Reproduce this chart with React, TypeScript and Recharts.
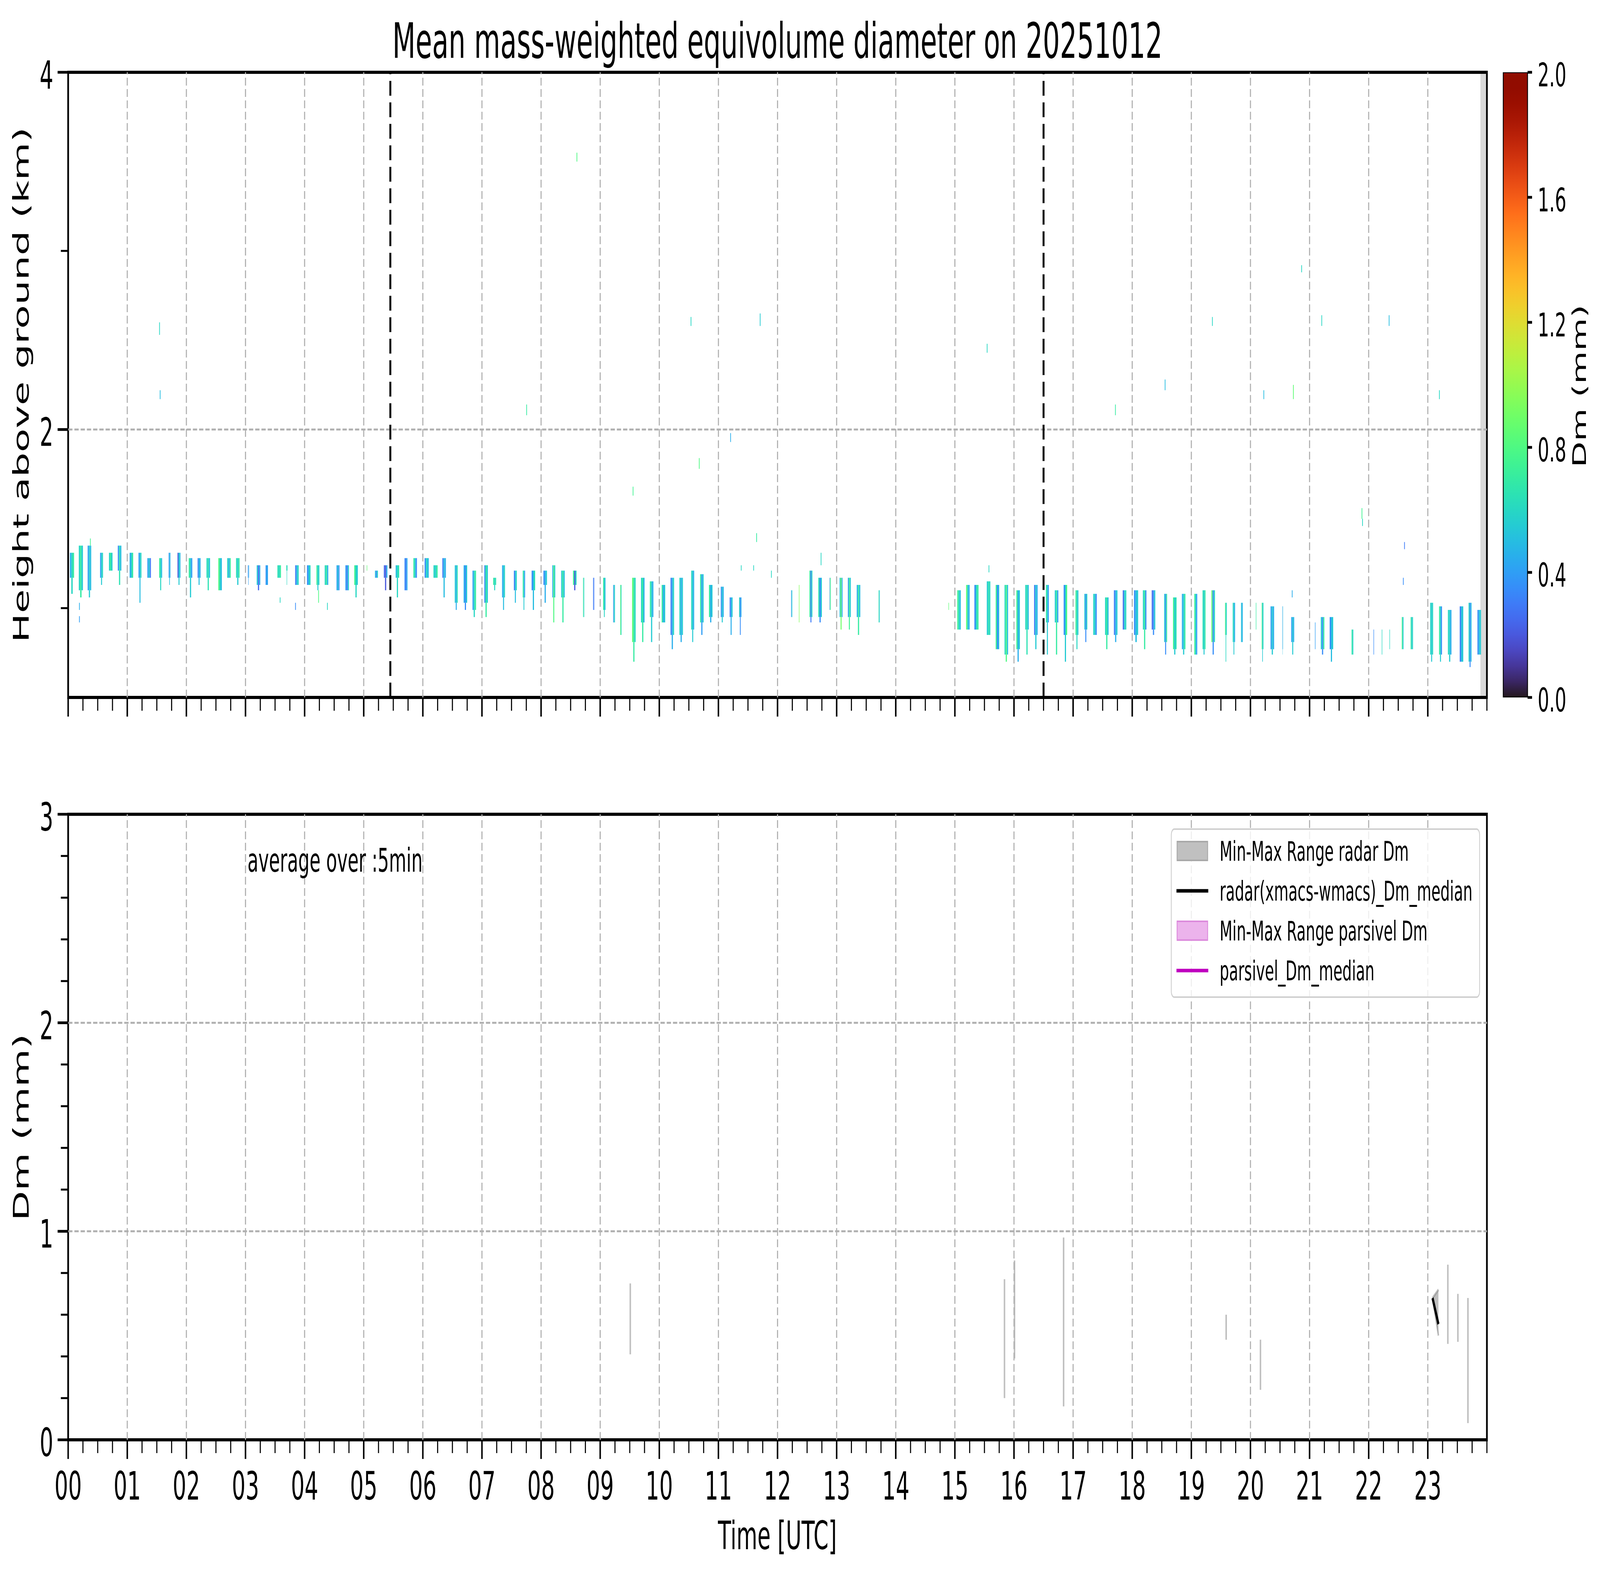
import React from "react";
import {
  ComposedChart,
  BarChart,
  Bar,
  Area,
  Line,
  XAxis,
  YAxis,
  ReferenceArea,
  ReferenceLine,
} from "recharts";

const FONT = '"DejaVu Sans", "Liberation Sans", sans-serif';
const PAGE_W = 7442;
const PAGE_H = 4031;

// axis labels / ticks
const HOUR_LABELS = [
  "00", "01", "02", "03", "04", "05", "06", "07", "08", "09", "10", "11",
  "12", "13", "14", "15", "16", "17", "18", "19", "20", "21", "22", "23",
];
const HOURS = HOUR_LABELS.map(Number);
const QUARTER_TICKS = Array.from({ length: 97 }, (_, i) => i / 4);
const TOP_Y_TICKS = [1, 2, 3, 4];
const TOP_Y_MAJOR = [2, 4];
const TOP_Y_GRID = [2];
const BOT_Y_TICKS = [0, 0.2, 0.4, 0.6, 0.8, 1, 1.2, 1.4, 1.6, 1.8, 2, 2.2, 2.4, 2.6, 2.8, 3];
const BOT_Y_MAJOR = [0, 1, 2, 3];
const BOT_Y_GRID = [1, 2];
const CB_TICKS = [0, 0.4, 0.8, 1.2, 1.6, 2.0];
const CB_LABELS = ["0.0", "0.4", "0.8", "1.2", "1.6", "2.0"];

// vertical markers and no-data band (hours)
const MARKER_TIMES = [5.45, 16.5];
const NODATA_BAND = [23.89, 24];

// radar Dm curtain: [start h, end h, top km, bottom km, tail bottom km, Dm left, Dm mid, Dm right]
const RAIN_COLS: number[][] = [
  [0.03, 0.10, 1.31, 1.17, 1.08, 0.45, 0.6, 0.7],
  [0.18, 0.25, 1.35, 1.10, 1.06, 0.6, 0.7, 0.55],
  [0.33, 0.39, 1.35, 1.10, 1.06, 0.4, 0.55, 0.5],
  [0.54, 0.59, 1.31, 1.17, 1.13, 0.4, 0.55, 0.6],
  [0.69, 0.75, 1.31, 1.21, 1.21, 0.6, 0.7, 0.55],
  [0.84, 0.90, 1.35, 1.21, 1.13, 0.35, 0.65, 0.5],
  [1.04, 1.10, 1.31, 1.17, 1.17, 0.45, 0.55, 0.7],
  [1.19, 1.24, 1.31, 1.17, 1.03, 0.4, 0.5, 0.6],
  [1.34, 1.40, 1.28, 1.17, 1.17, 0.4, 0.55, 0.3],
  [1.54, 1.59, 1.28, 1.17, 1.10, 0.7, 0.6, 0.5],
  [1.70, 1.73, 1.31, 1.17, 1.13, 0.35, 0.5, 0.45],
  [1.85, 1.90, 1.31, 1.17, 1.13, 0.2, 0.55, 0.5],
  [2.04, 2.10, 1.28, 1.17, 1.06, 0.7, 0.55, 0.4],
  [2.19, 2.24, 1.28, 1.17, 1.13, 0.3, 0.5, 0.45],
  [2.34, 2.40, 1.28, 1.17, 1.10, 0.6, 0.65, 0.5],
  [2.54, 2.60, 1.28, 1.10, 1.10, 0.8, 0.6, 0.5],
  [2.69, 2.75, 1.28, 1.17, 1.17, 0.6, 0.45, 0.7],
  [2.84, 2.90, 1.28, 1.17, 1.13, 0.65, 0.55, 0.7],
  [3.04, 3.06, 1.24, 1.17, 1.13, 0.35, 0.4, 0.45],
  [3.19, 3.25, 1.24, 1.13, 1.10, 0.55, 0.25, 0.45],
  [3.34, 3.38, 1.24, 1.13, 1.13, 0.35, 0.45, 0.4],
  [3.54, 3.60, 1.24, 1.17, 1.17, 0.65, 0.6, 0.7],
  [3.69, 3.71, 1.24, 1.21, 1.13, 0.7, 0.6, 0.6],
  [3.84, 3.90, 1.24, 1.13, 1.13, 0.3, 0.5, 0.6],
  [4.04, 4.10, 1.24, 1.13, 1.13, 0.35, 0.5, 0.6],
  [4.20, 4.25, 1.24, 1.13, 1.10, 0.75, 0.55, 0.6],
  [4.34, 4.40, 1.24, 1.13, 1.13, 0.6, 0.7, 0.45],
  [4.54, 4.59, 1.24, 1.10, 1.10, 0.4, 0.55, 0.35],
  [4.69, 4.75, 1.24, 1.10, 1.10, 0.4, 0.3, 0.55],
  [4.84, 4.90, 1.24, 1.13, 1.06, 0.75, 0.6, 0.55],
  [5.05, 5.06, 1.24, 1.21, 1.21, 0.85, 0.85, 0.85],
  [5.19, 5.24, 1.21, 1.17, 1.17, 0.5, 0.35, 0.6],
  [5.34, 5.40, 1.24, 1.17, 1.10, 0.25, 0.2, 0.45],
  [5.54, 5.60, 1.24, 1.17, 1.06, 0.5, 0.6, 0.65],
  [5.69, 5.74, 1.28, 1.10, 1.10, 0.35, 0.3, 0.45],
  [5.84, 5.90, 1.28, 1.17, 1.17, 0.7, 0.55, 0.35],
  [6.03, 6.10, 1.28, 1.17, 1.17, 0.35, 0.6, 0.5],
  [6.18, 6.25, 1.24, 1.17, 1.17, 0.6, 0.55, 0.7],
  [6.33, 6.39, 1.28, 1.17, 1.06, 0.3, 0.5, 0.45],
  [6.54, 6.59, 1.24, 1.03, 0.99, 0.55, 0.45, 0.65],
  [6.69, 6.75, 1.24, 1.03, 0.99, 0.45, 0.35, 0.55],
  [6.84, 6.90, 1.21, 0.99, 0.95, 0.4, 0.6, 0.7],
  [7.04, 7.10, 1.24, 1.03, 0.95, 0.35, 0.7, 0.55],
  [7.19, 7.24, 1.17, 1.13, 1.10, 0.7, 0.6, 0.65],
  [7.34, 7.39, 1.24, 1.06, 0.99, 0.45, 0.5, 0.6],
  [7.54, 7.59, 1.21, 1.10, 1.03, 0.3, 0.5, 0.6],
  [7.69, 7.73, 1.21, 1.06, 0.99, 0.7, 0.55, 0.4],
  [7.84, 7.90, 1.21, 1.10, 0.99, 0.35, 0.5, 0.65],
  [8.04, 8.10, 1.21, 1.13, 1.03, 0.35, 0.45, 0.55],
  [8.19, 8.24, 1.24, 1.06, 0.92, 0.45, 0.8, 0.55],
  [8.34, 8.40, 1.21, 1.06, 0.92, 0.55, 0.7, 0.5],
  [8.54, 8.60, 1.21, 1.13, 1.10, 0.75, 0.2, 0.6],
  [8.71, 8.73, 1.17, 0.95, 0.95, 0.75, 0.6, 0.6],
  [8.88, 8.90, 1.17, 0.99, 0.99, 0.3, 0.3, 0.3],
  [9.05, 9.09, 1.17, 0.99, 0.95, 0.7, 0.6, 0.5],
  [9.22, 9.25, 1.13, 0.92, 0.92, 0.35, 0.6, 0.55],
  [9.34, 9.36, 1.13, 0.85, 0.85, 0.9, 0.65, 0.6],
  [9.54, 9.60, 1.17, 0.81, 0.70, 0.85, 0.7, 0.6],
  [9.69, 9.75, 1.17, 0.92, 0.81, 0.6, 0.7, 0.45],
  [9.84, 9.90, 1.15, 0.95, 0.81, 0.7, 0.55, 0.45],
  [10.04, 10.10, 1.13, 0.92, 0.92, 0.7, 0.45, 0.55],
  [10.19, 10.25, 1.17, 0.85, 0.77, 0.3, 0.45, 0.6],
  [10.34, 10.40, 1.17, 0.85, 0.81, 0.6, 0.45, 0.55],
  [10.54, 10.59, 1.21, 0.88, 0.81, 0.6, 0.55, 0.45],
  [10.69, 10.75, 1.19, 0.92, 0.85, 0.7, 0.4, 0.55],
  [10.84, 10.90, 1.13, 0.95, 0.92, 0.7, 0.45, 0.55],
  [11.04, 11.09, 1.12, 0.95, 0.92, 0.35, 0.55, 0.45],
  [11.19, 11.24, 1.06, 0.95, 0.85, 0.3, 0.45, 0.55],
  [11.35, 11.39, 1.06, 0.95, 0.85, 0.6, 0.35, 0.45],
  [12.23, 12.25, 1.10, 0.95, 0.95, 0.35, 0.55, 0.55],
  [12.36, 12.37, 1.13, 0.92, 0.92, 0.95, 0.95, 0.95],
  [12.54, 12.59, 1.21, 0.95, 0.92, 0.7, 0.3, 0.6],
  [12.69, 12.75, 1.17, 0.95, 0.92, 0.65, 0.35, 0.55],
  [12.88, 12.90, 1.17, 0.99, 0.99, 0.3, 0.75, 0.75],
  [13.05, 13.10, 1.17, 0.95, 0.88, 0.55, 0.9, 0.45],
  [13.19, 13.24, 1.17, 0.95, 0.88, 0.4, 0.75, 0.55],
  [13.34, 13.40, 1.13, 0.95, 0.85, 0.45, 0.7, 0.5],
  [13.71, 13.73, 1.10, 0.92, 0.92, 0.7, 0.55, 0.55],
  [14.89, 14.90, 1.03, 0.99, 0.99, 0.85, 0.85, 0.85],
  [15.04, 15.10, 1.10, 0.88, 0.88, 0.75, 0.6, 0.5],
  [15.19, 15.25, 1.13, 0.88, 0.88, 0.85, 0.55, 0.45],
  [15.33, 15.40, 1.13, 0.88, 0.88, 0.35, 0.6, 0.7],
  [15.54, 15.60, 1.15, 0.85, 0.85, 0.55, 0.65, 0.6],
  [15.69, 15.75, 1.13, 0.77, 0.77, 0.75, 0.35, 0.5],
  [15.84, 15.90, 1.13, 0.74, 0.70, 0.6, 0.8, 0.5],
  [16.04, 16.10, 1.10, 0.77, 0.70, 0.75, 0.45, 0.55],
  [16.19, 16.25, 1.13, 0.88, 0.74, 0.6, 0.65, 0.5],
  [16.34, 16.40, 1.13, 0.85, 0.77, 0.3, 0.55, 0.45],
  [16.54, 16.59, 1.13, 0.92, 0.74, 0.7, 0.55, 0.4],
  [16.69, 16.75, 1.10, 0.92, 0.74, 0.55, 0.7, 0.4],
  [16.84, 16.90, 1.13, 0.85, 0.70, 0.35, 0.55, 0.8],
  [17.04, 17.09, 1.10, 0.85, 0.77, 0.75, 0.6, 0.55],
  [17.19, 17.24, 1.08, 0.88, 0.81, 0.55, 0.35, 0.6],
  [17.34, 17.40, 1.08, 0.85, 0.85, 0.6, 0.55, 0.35],
  [17.54, 17.60, 1.06, 0.85, 0.77, 0.6, 0.7, 0.5],
  [17.69, 17.75, 1.10, 0.85, 0.81, 0.3, 0.45, 0.55],
  [17.84, 17.90, 1.10, 0.88, 0.88, 0.25, 0.55, 0.6],
  [18.03, 18.10, 1.10, 0.85, 0.81, 0.35, 0.5, 0.55],
  [18.18, 18.24, 1.10, 0.88, 0.77, 0.6, 0.7, 0.35],
  [18.33, 18.39, 1.10, 0.88, 0.85, 0.25, 0.35, 0.55],
  [18.54, 18.59, 1.08, 0.81, 0.74, 0.55, 0.35, 0.7],
  [18.69, 18.75, 1.06, 0.77, 0.74, 0.75, 0.55, 0.65],
  [18.84, 18.90, 1.08, 0.77, 0.74, 0.45, 0.55, 0.7],
  [19.05, 19.10, 1.08, 0.74, 0.74, 0.75, 0.55, 0.4],
  [19.19, 19.24, 1.10, 0.77, 0.74, 0.65, 0.55, 0.7],
  [19.34, 19.40, 1.10, 0.81, 0.74, 0.85, 0.35, 0.6],
  [19.57, 19.60, 1.03, 0.85, 0.70, 0.8, 0.6, 0.6],
  [19.70, 19.74, 1.03, 0.81, 0.74, 0.6, 0.55, 0.45],
  [19.84, 19.87, 1.03, 0.81, 0.81, 0.55, 0.45, 0.5],
  [20.09, 20.10, 1.03, 0.88, 0.88, 0.7, 0.7, 0.7],
  [20.19, 20.22, 1.03, 0.77, 0.70, 0.8, 0.55, 0.6],
  [20.34, 20.40, 1.01, 0.77, 0.74, 0.4, 0.55, 0.45],
  [20.54, 20.55, 1.01, 0.77, 0.74, 0.3, 0.5, 0.5],
  [20.69, 20.74, 0.95, 0.81, 0.74, 0.4, 0.55, 0.45],
  [21.09, 21.10, 0.92, 0.77, 0.77, 0.4, 0.4, 0.4],
  [21.19, 21.25, 0.95, 0.77, 0.74, 0.55, 0.35, 0.7],
  [21.34, 21.40, 0.95, 0.77, 0.70, 0.35, 0.5, 0.55],
  [21.71, 21.74, 0.88, 0.74, 0.74, 0.65, 0.7, 0.55],
  [22.08, 22.09, 0.88, 0.74, 0.74, 0.35, 0.35, 0.35],
  [22.22, 22.23, 0.88, 0.74, 0.74, 0.6, 0.6, 0.6],
  [22.35, 22.36, 0.88, 0.77, 0.77, 0.6, 0.6, 0.6],
  [22.56, 22.59, 0.95, 0.77, 0.77, 0.8, 0.6, 0.55],
  [22.71, 22.75, 0.95, 0.77, 0.77, 0.7, 0.55, 0.6],
  [23.04, 23.09, 1.03, 0.74, 0.70, 0.6, 0.55, 0.6],
  [23.19, 23.24, 1.01, 0.74, 0.70, 0.7, 0.55, 0.35],
  [23.34, 23.40, 0.99, 0.74, 0.70, 0.6, 0.55, 0.45],
  [23.54, 23.60, 1.01, 0.70, 0.70, 0.3, 0.5, 0.55],
  [23.69, 23.74, 1.03, 0.70, 0.67, 0.6, 0.35, 0.5],
  [23.84, 23.90, 0.99, 0.74, 0.74, 0.35, 0.5, 0.55],
];

// isolated returns: [time h, bottom km, top km, Dm]
const SPECKS: number[][] = [
  [0.37, 1.35, 1.39, 0.75],
  [0.185, 0.92, 0.955, 0.4],
  [0.185, 0.99, 1.03, 0.45],
  [1.54, 2.53, 2.60, 0.6],
  [1.55, 2.17, 2.22, 0.5],
  [3.58, 1.03, 1.06, 0.6],
  [3.84, 0.99, 1.03, 0.35],
  [4.23, 1.03, 1.10, 0.8],
  [4.38, 0.99, 1.03, 0.6],
  [7.75, 2.08, 2.14, 0.7],
  [8.60, 3.50, 3.55, 0.8],
  [9.55, 1.63, 1.68, 0.75],
  [10.53, 2.58, 2.63, 0.6],
  [10.67, 1.78, 1.84, 0.8],
  [11.20, 1.93, 1.98, 0.45],
  [11.38, 1.21, 1.24, 0.6],
  [11.59, 1.21, 1.24, 0.6],
  [11.64, 1.37, 1.42, 0.7],
  [11.70, 2.58, 2.65, 0.55],
  [11.89, 1.17, 1.21, 0.6],
  [12.73, 1.24, 1.31, 0.6],
  [15.54, 2.43, 2.48, 0.6],
  [15.57, 1.20, 1.24, 0.6],
  [17.71, 2.08, 2.14, 0.7],
  [18.55, 2.22, 2.28, 0.5],
  [19.35, 2.58, 2.63, 0.6],
  [20.22, 2.17, 2.22, 0.5],
  [20.70, 1.06, 1.10, 0.45],
  [20.72, 2.17, 2.25, 0.85],
  [20.86, 2.88, 2.92, 0.6],
  [21.20, 2.58, 2.64, 0.6],
  [21.88, 1.50, 1.56, 0.75],
  [21.89, 1.46, 1.50, 0.6],
  [22.34, 2.58, 2.64, 0.5],
  [22.58, 1.13, 1.17, 0.35],
  [22.60, 1.33, 1.37, 0.3],
  [23.19, 2.17, 2.22, 0.6],
];

// lower panel: radar Dm min/max (mm)
const RADAR_T = [9.51, 15.84, 16.01, 16.84, 19.59, 20.17, 23.34, 23.51, 23.68];
const RADAR_MIN = [0.41, 0.2, 0.39, 0.16, 0.48, 0.24, 0.46, 0.47, 0.08];
const RADAR_MAX = [0.75, 0.77, 0.86, 0.97, 0.6, 0.48, 0.84, 0.7, 0.68];
const BAND_T = [23.08, 23.18];
const BAND_MIN = [0.68, 0.5];
const BAND_MAX = [0.68, 0.72];
const RADAR_MEDIAN = [0.68, 0.555];

// turbo colormap (polynomial fit), Dm 0..2 mm
function turbo(dm: number) {
  const x = Math.min(1, Math.max(0, dm / 2));
  const r = 0.13572138 + x * (4.6153926 + x * (-42.66032258 + x * (132.13108234 + x * (-152.94239396 + x * 59.28637943))));
  const g = 0.09140261 + x * (2.19418839 + x * (4.84296658 + x * (-14.18503333 + x * (4.27729857 + x * 2.82956604))));
  const b = 0.1066733 + x * (12.64194608 + x * (-60.58204836 + x * (110.36276771 + x * (-89.90310912 + x * 27.34824973))));
  const c = (u: number) => Math.round(255 * Math.min(1, Math.max(0, u)));
  return `rgb(${c(r)},${c(g)},${c(b)})`;
}

type Cell = { x1: number; x2: number; y1: number; y2: number; dm: number };
const cells: Cell[] = [];
RAIN_COLS.forEach(([s, e, top, bot, tail, a, b, c]) => {
  const w = (e - s) / 3;
  [a, b, c].forEach((dm, i) => cells.push({ x1: s + i * w, x2: s + (i + 1) * w, y1: bot, y2: top, dm }));
  if (tail < bot) cells.push({ x1: s + w, x2: s + 2 * w, y1: tail, y2: bot, dm: b });
});
SPECKS.forEach(([t, lo, hi, dm]) => cells.push({ x1: t, x2: t + 0.012, y1: lo, y2: hi, dm }));

const dmRows = [
  ...RADAR_T.map((t, i) => ({ t, range: [RADAR_MIN[i], RADAR_MAX[i]] as number[] })),
  ...BAND_T.map((t, i) => ({ t, band: [BAND_MIN[i], BAND_MAX[i]] as number[], med: RADAR_MEDIAN[i] })),
].sort((p, q) => p.t - q.t);

const cbData = [{ name: "Dm", range: [0, 2] }];
const gradStops = Array.from({ length: 41 }, (_, i) => i / 40);

const GRID = { stroke: "#b0b0b0", strokeWidth: 5, strokeDasharray: "20 9" };

const makeXTick = (labelled: boolean) => (props: any) => {
  const { x, y, payload } = props;
  const v = payload.value;
  const major = Number.isInteger(v) && v < 24;
  return (
    <g>
      <line x1={x} x2={x} y1={y} y2={y + (major ? 49 : 34)} stroke="#000" strokeWidth={major ? 7 : 5} />
      {labelled && major ? (
        <text x={x} y={y + 153} textAnchor="middle" fontSize={100} fontFamily={FONT} fill="#000">
          {HOUR_LABELS[v]}
        </text>
      ) : null}
    </g>
  );
};

const makeYTick = (majors: number[]) => (props: any) => {
  const { x, y, payload } = props;
  const v = payload.value;
  const major = majors.includes(v);
  return (
    <g>
      <line x1={x} x2={x - (major ? 49 : 34)} y1={y} y2={y} stroke="#000" strokeWidth={major ? 7 : 5} />
      {major ? (
        <text x={x - 69} y={y + 42} textAnchor="end" fontSize={100} fontFamily={FONT} fill="#000">
          {String(v)}
        </text>
      ) : null}
    </g>
  );
};

const cbTick = (props: any) => {
  const { x, y, payload, index } = props;
  return (
    <g>
      <line x1={x} x2={x + 21} y1={y} y2={y} stroke="#000" strokeWidth={7} />
      <text x={x + 47} y={y + 36} fontSize={84} fontFamily={FONT} fill="#000">
        {CB_LABELS[index] ?? String(payload.value)}
      </text>
    </g>
  );
};

const LEGEND_ROWS = [
  { kind: "patch", fill: "#c0c0c0", stroke: "#a8a8a8", label: "Min-Max Range radar Dm" },
  { kind: "line", stroke: "#000000", label: "radar(xmacs-wmacs)_Dm_median" },
  { kind: "patch", fill: "#ecb3ec", stroke: "#dc8adc", label: "Min-Max Range parsivel Dm" },
  { kind: "line", stroke: "#bf00bf", label: "parsivel_Dm_median" },
];

function Figure() {
  return (
    <div style={{ position: "relative", width: PAGE_W, height: PAGE_H, background: "#fff" }}>
      <svg width={0} height={0} style={{ position: "absolute" }}>
        <defs>
          <linearGradient id="turboGrad" x1="0" y1="1" x2="0" y2="0">
            {gradStops.map((f) => (
              <stop key={f} offset={f} stopColor={turbo(f * 2)} />
            ))}
          </linearGradient>
        </defs>
      </svg>

      {/* upper panel: Dm curtain */}
      <div style={{ position: "absolute", left: 0, top: 0 }}>
        <ComposedChart width={PAGE_W} height={1900} margin={{ top: 185, right: 526, bottom: 15, left: 117 }}>
          <XAxis type="number" dataKey="t" domain={[0, 24]} ticks={QUARTER_TICKS} interval={0} tickSize={0} tickMargin={0}
            tickLine={false} axisLine={false} height={100} tick={makeXTick(false)} allowDataOverflow />
          <YAxis type="number" domain={[0.5, 4]} ticks={TOP_Y_TICKS} interval={0} tickSize={0} tickMargin={0}
            tickLine={false} axisLine={false} width={200} tick={makeYTick(TOP_Y_MAJOR)} allowDataOverflow />
          <ReferenceArea x1={NODATA_BAND[0]} x2={NODATA_BAND[1]} y1={0.5} y2={4} fill="#d9d9d9" fillOpacity={1} stroke="none" ifOverflow="visible" />
          {HOURS.slice(1).map((h) => (
            <ReferenceLine key={`gx${h}`} x={h} {...GRID} />
          ))}
          {TOP_Y_GRID.map((v) => (
            <ReferenceLine key={`gy${v}`} y={v} {...GRID} />
          ))}
          {cells.map((c, i) => (
            <ReferenceArea key={`c${i}`} x1={c.x1} x2={c.x2} y1={c.y1} y2={c.y2} fill={turbo(c.dm)} fillOpacity={1} stroke="none" ifOverflow="visible" />
          ))}
          {MARKER_TIMES.map((t) => (
            <ReferenceLine key={`m${t}`} x={t} stroke="#000" strokeWidth={9} strokeDasharray="38 17" />
          ))}
          <ReferenceArea x1={0} x2={24} y1={0.5} y2={4} fill="none" fillOpacity={0} stroke="#000" strokeWidth={8} ifOverflow="visible" />
        </ComposedChart>
      </div>

      {/* colorbar */}
      <div style={{ position: "absolute", left: 6900, top: 0 }}>
        <BarChart width={542} height={1900} data={cbData} barCategoryGap={0} margin={{ top: 185, right: 37, bottom: 115, left: 92 }}>
          <XAxis dataKey="name" hide />
          <YAxis orientation="right" type="number" domain={[0, 2]} ticks={CB_TICKS} interval={0} tickSize={0} tickMargin={0}
            tickLine={false} axisLine={false} width={300} tick={cbTick} allowDataOverflow />
          <Bar dataKey="range" fill="url(#turboGrad)" stroke="#000" strokeWidth={4} isAnimationActive={false} />
        </BarChart>
      </div>

      {/* lower panel: Dm time series */}
      <div style={{ position: "absolute", left: 0, top: 1950 }}>
        <ComposedChart width={PAGE_W} height={2081} data={dmRows} margin={{ top: 134, right: 526, bottom: 246, left: 117 }}>
          <XAxis type="number" dataKey="t" domain={[0, 24]} ticks={QUARTER_TICKS} interval={0} tickSize={0} tickMargin={0}
            tickLine={false} axisLine={false} height={100} tick={makeXTick(true)} allowDataOverflow />
          <YAxis type="number" domain={[0, 3]} ticks={BOT_Y_TICKS} interval={0} tickSize={0} tickMargin={0}
            tickLine={false} axisLine={false} width={200} tick={makeYTick(BOT_Y_MAJOR)} allowDataOverflow />
          {HOURS.slice(1).map((h) => (
            <ReferenceLine key={`bx${h}`} x={h} {...GRID} />
          ))}
          {BOT_Y_GRID.map((v) => (
            <ReferenceLine key={`by${v}`} y={v} {...GRID} />
          ))}
          <Bar dataKey="range" barSize={7} fill="#bfbfbf" isAnimationActive={false} />
          <Area dataKey="band" type="linear" fill="#808080" fillOpacity={0.5} stroke="#808080" strokeOpacity={0.5}
            strokeWidth={7} dot={false} activeDot={false} connectNulls={false} isAnimationActive={false} />
          <Line dataKey="med" type="linear" stroke="#000" strokeWidth={10} dot={false} activeDot={false} connectNulls={false} isAnimationActive={false} />
          <ReferenceArea x1={0} x2={24} y1={0} y2={3} fill="none" fillOpacity={0} stroke="#000" strokeWidth={8} ifOverflow="visible" />
        </ComposedChart>
      </div>

      {/* texts and legend */}
      <svg width={PAGE_W} height={PAGE_H} style={{ position: "absolute", left: 0, top: 0, pointerEvents: "none" }} fontFamily={FONT}>
        <text x={3616} y={148} textAnchor="middle" fontSize={125} fill="#000">
          Mean mass-weighted equivolume diameter on 20251012
        </text>
        <text transform="translate(133,985) rotate(-90)" textAnchor="middle" fontSize={100} fill="#000">
          Height above ground (km)
        </text>
        <text transform="translate(133,2885) rotate(-90)" textAnchor="middle" fontSize={100} fill="#000">
          Dm (mm)
        </text>
        <text x={3616} y={3965} textAnchor="middle" fontSize={100} fill="#000">
          Time [UTC]
        </text>
        <text transform="translate(7376,988) rotate(-90)" textAnchor="middle" fontSize={87} fill="#000">
          Dm (mm)
        </text>
        <text x={1151} y={2231} fontSize={83} fill="#000">
          average over :5min
        </text>
        <g>
          <rect x={5448} y={2122} width={1434} height={430} rx={14} fill="#fff" fillOpacity={0.8} stroke="#d0d0d0" strokeWidth={4} />
          {LEGEND_ROWS.map((r, i) => {
            const cy = 2178 + i * 102;
            return (
              <g key={r.label}>
                {r.kind === "patch" ? (
                  <rect x={5475} y={cy - 24} width={142} height={48} fill={r.fill} stroke={r.stroke} strokeWidth={4} />
                ) : (
                  <line x1={5472} x2={5620} y1={cy} y2={cy} stroke={r.stroke} strokeWidth={9} />
                )}
                <text x={5673} y={cy + 25} fontSize={69} fill="#000">
                  {r.label}
                </text>
              </g>
            );
          })}
        </g>
      </svg>
    </div>
  );
}

export default function App() {
  // the browser may not give the full 7442x4031 CSS viewport: stretch the figure to whatever it gets
  const vw = typeof document !== "undefined" ? document.documentElement.clientWidth || window.innerWidth : PAGE_W;
  const vh = typeof document !== "undefined" ? document.documentElement.clientHeight || window.innerHeight : PAGE_H;
  const sx = vw / PAGE_W;
  const sy = Math.min(vh / PAGE_H, 1) || sx;
  return (
    <div style={{ position: "absolute", left: 0, top: 0, width: PAGE_W * sx, height: PAGE_H * sy, overflow: "hidden", background: "#fff" }}>
      <div style={{ width: PAGE_W, height: PAGE_H, transform: `scale(${sx}, ${sy})`, transformOrigin: "0 0" }}>
        <Figure />
      </div>
    </div>
  );
}
